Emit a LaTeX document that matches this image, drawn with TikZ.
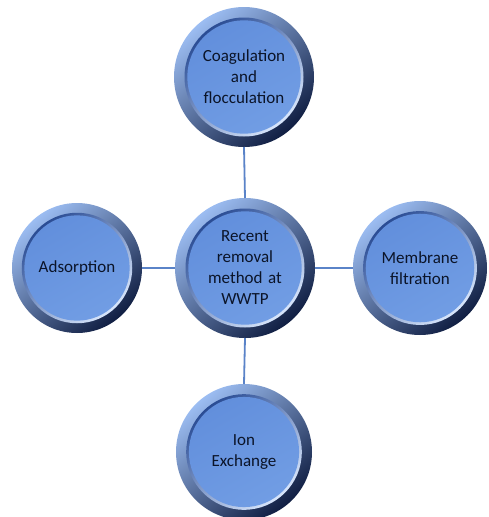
\documentclass[tikz,border=0pt]{standalone}
\usepackage{fontspec}
\setmainfont{Carlito}
\usetikzlibrary{calc}

\definecolor{ringlight}{HTML}{9CBDF2}
\definecolor{ringmid}{HTML}{4A78CC}
\definecolor{ringdark}{HTML}{101E42}
\definecolor{rimdark}{HTML}{2A4C94}
\definecolor{rimlight}{HTML}{D8E6FC}
\definecolor{disktop}{HTML}{628FDC}
\definecolor{diskbot}{HTML}{719DE4}
\definecolor{linkblue}{HTML}{5A83C8}
\definecolor{labelink}{HTML}{0B1428}

\tikzset{
  bubble/.style={
    circle, minimum size=2*#1, inner sep=0pt, outer sep=0pt,
    text width=1.5*#1, align=center, text=labelink,
    font=\fontsize{17}{21}\selectfont,
    path picture={
      \coordinate (pc) at (path picture bounding box.center);
      % bevelled outer ring
      \shade[top color=ringlight, middle color=ringmid, bottom color=ringdark,
             shading angle=40] (pc) circle (#1);
      % inner rim: dark upper left, bright lower right
      \shade[top color=rimdark, middle color=ringmid, bottom color=rimlight,
             shading angle=40] (pc) circle ({0.85*#1});
      % recessed face
      \shade[top color=disktop, bottom color=diskbot, shading angle=30]
             (pc) circle ({0.81*#1});
    }},
  link/.style={draw=linkblue, line width=1.8pt}
}

\begin{document}
\begin{tikzpicture}[x=1pt, y=1pt]
  \useasboundingbox (0,0) rectangle (489,-517);

  \node[bubble=70pt] (hub)    at (245,-268) {Recent\\removal\\method at\\WWTP};
  \node[bubble=70pt] (coag)   at (244,-77)  {Coagulation\\and\\flocculation};
  \node[bubble=65pt] (adsorb) at (77,-268)  {Adsorption};
  \node[bubble=67pt] (membr)  at (420,-268) {Membrane\\filtration};
  \node[bubble=68pt] (ionex)  at (244,-452) {Ion\\Exchange};

  \draw[link] (hub.north) -- (coag.south);
  \draw[link] (hub.west)  -- (adsorb.east);
  \draw[link] (hub.east)  -- (membr.west);
  \draw[link] (hub.south) -- (ionex.north);
\end{tikzpicture}
\end{document}
